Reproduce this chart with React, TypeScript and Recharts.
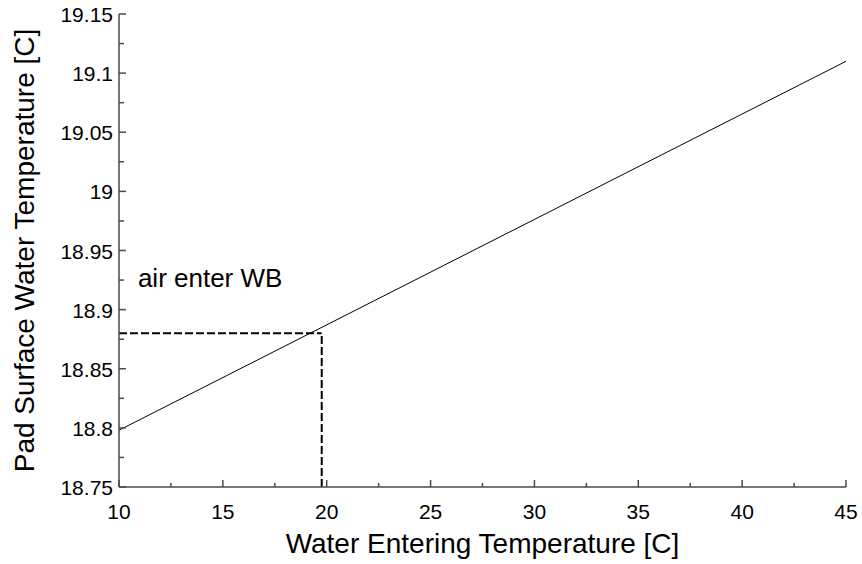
import React from 'react'
import { LineChart, Line, XAxis, YAxis, ReferenceLine, ReferenceDot } from 'recharts'

const FONT = '"Liberation Sans", Arial, sans-serif'
const AXIS = '#4a4a4a'

// line: water entering temp -> pad surface water temp
const waterIn = [10, 45]
const padTemp = [18.798, 19.11]

// operating point (air enter WB)
const wbX = 19.76
const wbY = 18.88

const xTicks = [10, 12.5, 15, 17.5, 20, 22.5, 25, 27.5, 30, 32.5, 35, 37.5, 40, 42.5, 45]
const xLabels = ['10', '15', '20', '25', '30', '35', '40', '45']
const yTicks = [18.75, 18.775, 18.8, 18.825, 18.85, 18.875, 18.9, 18.925, 18.95, 18.975, 19, 19.025, 19.05, 19.075, 19.1, 19.125, 19.15]
const yLabels = ['18.75', '18.8', '18.85', '18.9', '18.95', '19', '19.05', '19.1', '19.15']

const data = waterIn.map((x, i) => ({ x, y: padTemp[i] }))

const fmt = (v: number) => String(Number(v.toFixed(3)))

function BottomTick({ x, y, payload }: any) {
  const label = fmt(payload.value)
  const major = xLabels.includes(label)
  return (
    <g>
      <line x1={x} x2={x} y1={y} y2={y - (major ? 7 : 4)} stroke={AXIS} strokeWidth={1.5} />
      {major && (
        <text x={x} y={y + 32} textAnchor="middle" fontSize={21} fontFamily={FONT} fill="#000">{label}</text>
      )}
    </g>
  )
}

function TopTick({ x, y, payload }: any) {
  const major = xLabels.includes(fmt(payload.value))
  return <line x1={x} x2={x} y1={y} y2={y + (major ? 7 : 4)} stroke={AXIS} strokeWidth={1.5} />
}

function LeftTick({ x, y, payload }: any) {
  const label = fmt(payload.value)
  const major = yLabels.includes(label)
  return (
    <g>
      <line x1={x} x2={x + (major ? 7 : 5)} y1={y} y2={y} stroke={AXIS} strokeWidth={1.5} />
      {major && (
        <text x={x - 6} y={y + 8} textAnchor="end" fontSize={21} fontFamily={FONT} fill="#000">{label}</text>
      )}
    </g>
  )
}

function RightTick({ x, y, payload }: any) {
  const major = yLabels.includes(fmt(payload.value))
  return <line x1={x} x2={x - (major ? 7 : 5)} y1={y} y2={y} stroke={AXIS} strokeWidth={1.5} />
}

function XTitle({ viewBox }: any) {
  const { x, y, width } = viewBox
  return (
    <text x={x + width / 2} y={y + 66} textAnchor="middle" fontSize={28} fontFamily={FONT} fill="#000">
      Water Entering Temperature [C]
    </text>
  )
}

function YTitle({ viewBox }: any) {
  const { y, height } = viewBox
  const cy = y + height / 2
  return (
    <text x={34} y={cy} transform={`rotate(-90 34 ${cy})`} textAnchor="middle" fontSize={28} fontFamily={FONT} fill="#000">
      Pad Surface Water Temperature [C]
    </text>
  )
}

export default function App() {
  return (
    <div style={{ position: 'absolute', left: 0, top: 0, background: '#fff' }}>
      <LineChart width={862} height={564} data={data} margin={{ top: 14, right: 16, left: 0, bottom: 0 }}>
        <XAxis
          dataKey="x" type="number" domain={[10, 45]} ticks={xTicks} allowDataOverflow
          height={77} tickSize={0} tickMargin={0} tickLine={false}
          axisLine={{ stroke: AXIS, strokeWidth: 1.5 }}
          tick={<BottomTick />} interval={0}
          label={<XTitle />}
        />
        <XAxis
          xAxisId="top" orientation="top" type="number" domain={[10, 45]} ticks={xTicks} allowDataOverflow
          height={0} tickSize={0} tickMargin={0} tickLine={false}
          axisLine={{ stroke: AXIS, strokeWidth: 1.5 }}
          tick={<TopTick />} interval={0}
        />
        <YAxis
          type="number" domain={[18.75, 19.15]} ticks={yTicks} allowDataOverflow
          width={119} tickSize={0} tickMargin={0} tickLine={false}
          axisLine={{ stroke: AXIS, strokeWidth: 1.5 }}
          tick={<LeftTick />} interval={0}
          label={<YTitle />}
        />
        <YAxis
          yAxisId="right" orientation="right" type="number" domain={[18.75, 19.15]} ticks={yTicks} allowDataOverflow
          width={0} tickSize={0} tickMargin={0} tickLine={false}
          axisLine={{ stroke: AXIS, strokeWidth: 1.5 }}
          tick={<RightTick />} interval={0}
        />
        <Line dataKey="y" stroke="#000" strokeWidth={1} dot={false} isAnimationActive={false} />
        <ReferenceLine
          segment={[{ x: 10, y: wbY }, { x: wbX, y: wbY }]}
          stroke="#000" strokeWidth={2} strokeDasharray="8 3"
        />
        <ReferenceLine
          segment={[{ x: wbX, y: 18.75 }, { x: wbX, y: wbY }]}
          stroke="#000" strokeWidth={2} strokeDasharray="8 3"
        />
        <ReferenceDot
          x={10.91} y={18.919} r={0}
          shape={(p: any) => (
            <text x={p.cx} y={p.cy} fontSize={26} fontFamily={FONT} fill="#000">air enter WB</text>
          )}
        />
      </LineChart>
    </div>
  )
}
